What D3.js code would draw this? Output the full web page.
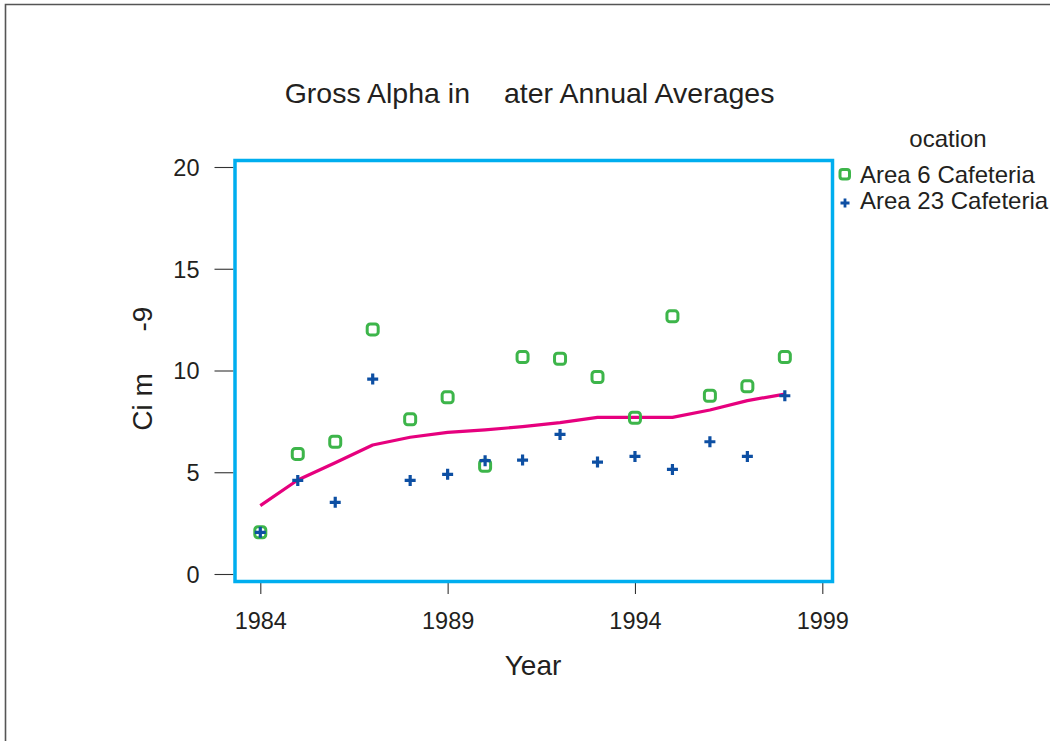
<!DOCTYPE html>
<html>
<head>
<meta charset="utf-8">
<script src="https://cdn.jsdelivr.net/npm/d3@7"></script>
<style>
  html, body { margin: 0; padding: 0; background: #fff; }
  svg { display: block; font-family: "Liberation Sans", Arial, sans-serif; }
</style>
</head>
<body>
<svg id="chart" width="1050" height="741"></svg>
<script>
// ---- data ----
const years = [1984, 1985, 1986, 1987, 1988, 1989, 1990, 1991, 1992, 1993, 1994, 1995, 1996, 1997, 1998];
const area6 = [2.05, 5.9, 6.5, 12.02, 7.6, 8.68, 5.32, 10.66, 10.58, 9.68, 7.68, 12.66, 8.76, 9.22, 10.66];
const area23 = [2.05, 4.6, 3.52, 9.58, 4.6, 4.9, 5.57, 5.6, 6.86, 5.5, 5.78, 5.14, 6.5, 5.78, 8.76];
const trend = [3.36, 4.62, 5.47, 6.34, 6.72, 6.96, 7.08, 7.24, 7.44, 7.7, 7.7, 7.7, 8.06, 8.52, 8.84];
const xTicks = [1984, 1989, 1994, 1999];
const yTicks = [0, 5, 10, 15, 20];
const seriesNames = ["Area 6 Cafeteria", "Area 23 Cafeteria"];

// ---- layout ----
const svg = d3.select("#chart");
const box = { left: 235, right: 832.5, top: 160.5, bottom: 581.5 };
const x = d3.scaleLinear().domain([1984, 1999]).range([260.3, 822.3]);
const y = d3.scaleLinear().domain([0, 20]).range([574, 167]);

const green = "#3db54a", blue = "#0d4fa3", pink = "#e6007e", cyan = "#00aeef";

// outer frame
svg.append("path")
  .attr("d", "M5.5,741 L5.5,4.5 L1050,4.5")
  .attr("fill", "none").attr("stroke", "#555").attr("stroke-width", 1.6);

// title
svg.append("text").attr("x", 470).attr("y", 102.5).attr("text-anchor", "end")
  .attr("font-size", 28.5).attr("fill", "#231f20").text("Gross Alpha in");
svg.append("text").attr("x", 504).attr("y", 102.5).attr("text-anchor", "start")
  .attr("font-size", 28.5).attr("fill", "#231f20").text("ater Annual Averages");

// y axis
const yAxis = d3.axisLeft(y).tickValues(yTicks).tickSize(19).tickPadding(15).tickFormat(d3.format("d"));
const gy = svg.append("g").attr("transform", `translate(${box.left - 1.5},0)`).call(yAxis);
gy.select(".domain").remove();
gy.selectAll(".tick line").attr("stroke", "#333").attr("stroke-width", 1.1);
gy.selectAll(".tick text").attr("font-size", 23.5).attr("fill", "#231f20")
  .attr("font-family", "Liberation Sans, Arial, sans-serif").attr("dy", "0.36em");

// x axis
const xAxis = d3.axisBottom(x).tickValues(xTicks).tickSize(11).tickPadding(18).tickFormat(d3.format("d"));
const gx = svg.append("g").attr("transform", `translate(0,${box.bottom + 1.5})`).call(xAxis);
gx.select(".domain").remove();
gx.selectAll(".tick line").attr("stroke", "#333").attr("stroke-width", 1.1);
gx.selectAll(".tick text").attr("font-size", 23.5).attr("fill", "#231f20")
  .attr("font-family", "Liberation Sans, Arial, sans-serif").attr("dy", "0.71em");

// axis titles
svg.append("text").attr("x", 533).attr("y", 675).attr("text-anchor", "middle")
  .attr("font-size", 28).attr("fill", "#231f20").text("Year");
svg.append("text").attr("transform", "translate(152,402) rotate(-90)").attr("text-anchor", "middle")
  .attr("font-size", 28).attr("fill", "#231f20").text("Ci m");
svg.append("text").attr("transform", "translate(152,319) rotate(-90)").attr("text-anchor", "middle")
  .attr("font-size", 28).attr("fill", "#231f20").text("-9");

// plot box
svg.append("rect")
  .attr("x", box.left).attr("y", box.top)
  .attr("width", box.right - box.left).attr("height", box.bottom - box.top)
  .attr("fill", "none").attr("stroke", cyan).attr("stroke-width", 3.5);

// trend line
const line = d3.line().x((d, i) => x(years[i])).y(d => y(d));
svg.append("path").datum(trend).attr("d", line)
  .attr("fill", "none").attr("stroke", pink).attr("stroke-width", 3.2).attr("stroke-linejoin", "round");

// area 6 squares
svg.append("g").selectAll("rect").data(area6).join("rect")
  .attr("x", (d, i) => x(years[i]) - 5.5).attr("y", d => y(d) - 5.5)
  .attr("width", 11).attr("height", 11).attr("rx", 3)
  .attr("fill", "none").attr("stroke", green).attr("stroke-width", 3);

// area 23 crosses
const cross = s => `M${-s},0 L${s},0 M0,${-s} L0,${s}`;
svg.append("g").selectAll("path").data(area23).join("path")
  .attr("transform", (d, i) => `translate(${x(years[i])},${y(d)})`)
  .attr("d", cross(5.5)).attr("fill", "none").attr("stroke", blue).attr("stroke-width", 3.2);

// legend
const lg = svg.append("g");
lg.append("text").attr("x", 948).attr("y", 146.5).attr("text-anchor", "middle")
  .attr("font-size", 24).attr("fill", "#231f20").text("ocation");
lg.append("rect").attr("x", 840).attr("y", 169.5).attr("width", 9.5).attr("height", 9.5).attr("rx", 2.5)
  .attr("fill", "none").attr("stroke", green).attr("stroke-width", 3);
lg.append("path").attr("transform", "translate(845,203)").attr("d", cross(4.5))
  .attr("fill", "none").attr("stroke", blue).attr("stroke-width", 2.8);
lg.selectAll("text.item").data(seriesNames).join("text").attr("class", "item")
  .attr("x", 860).attr("y", (d, i) => 183 + i * 26.3)
  .attr("font-size", 24).attr("fill", "#231f20").text(d => d);
</script>
</body>
</html>
